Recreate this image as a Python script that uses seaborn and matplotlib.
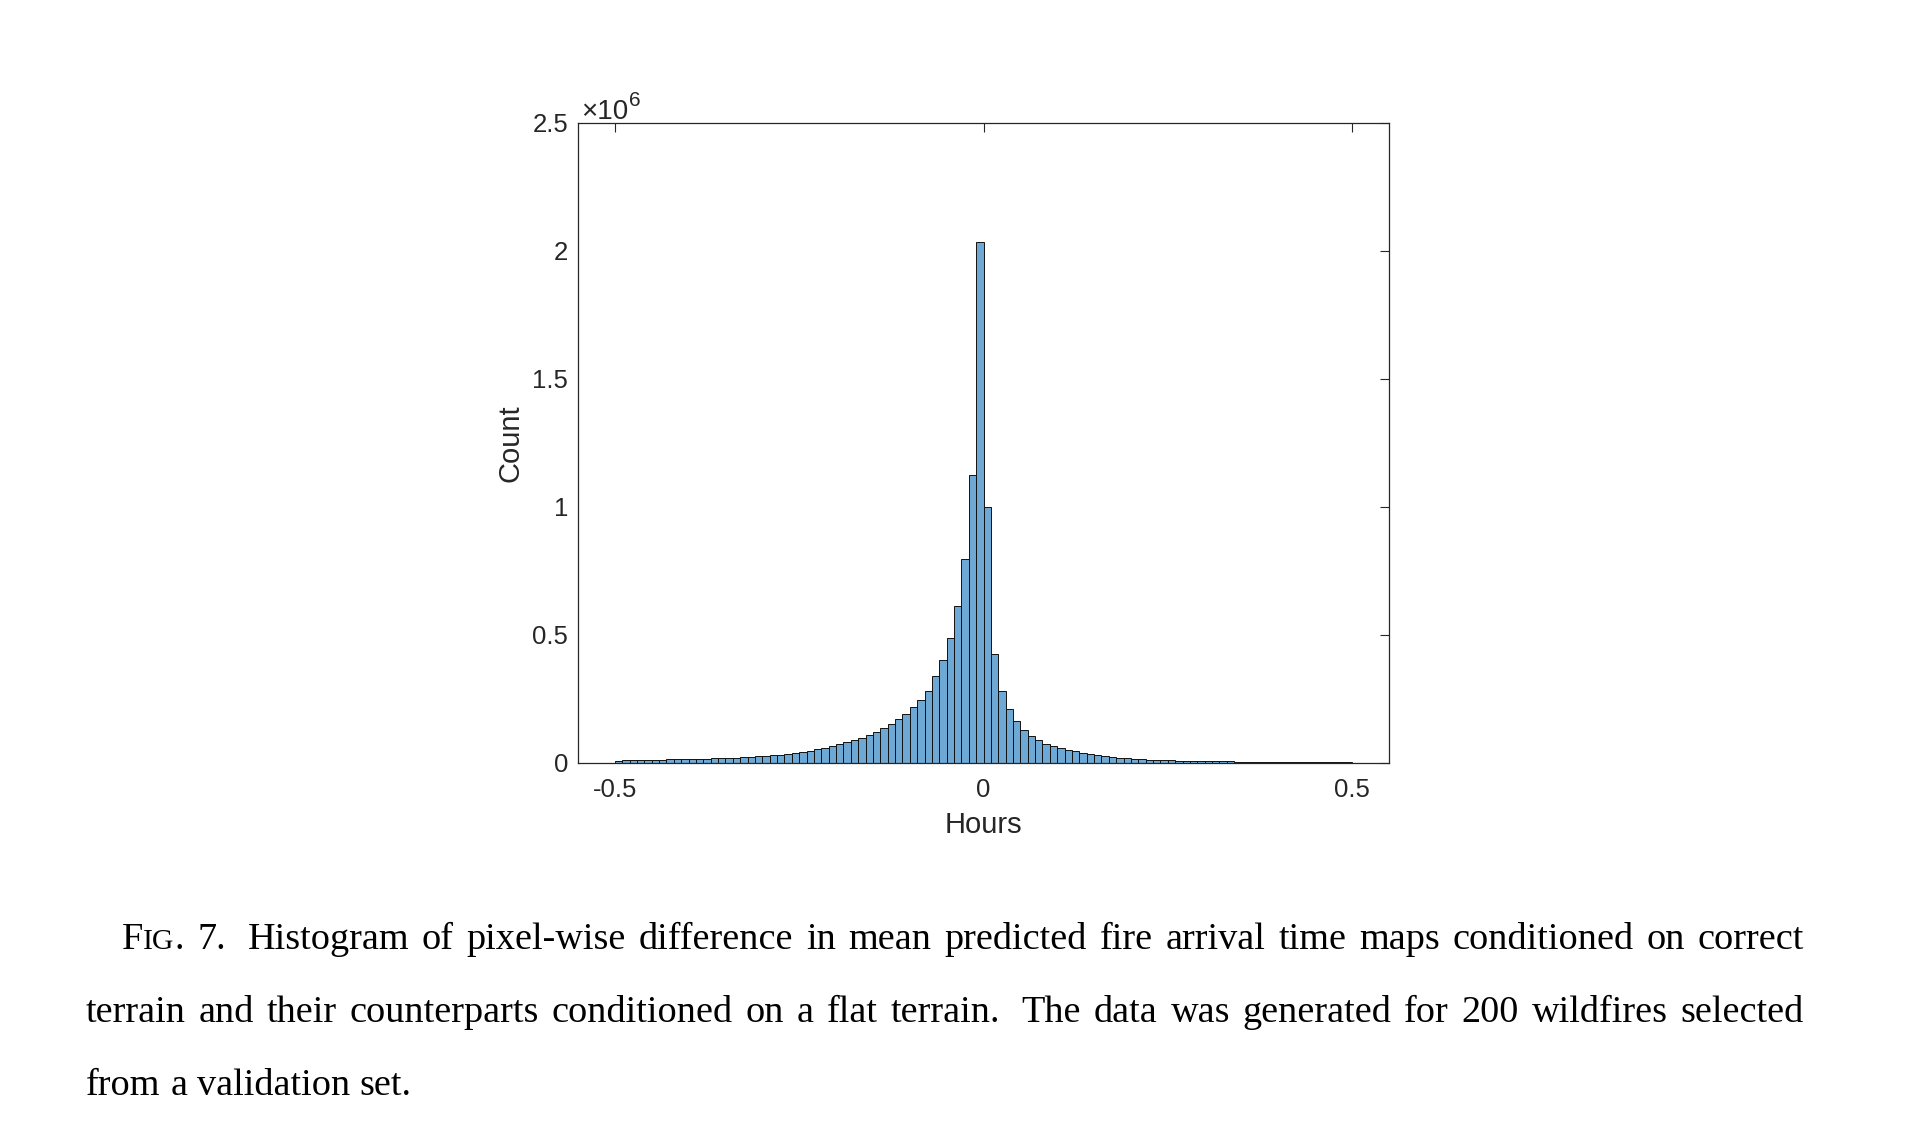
import numpy as np
import pandas as pd
import matplotlib
matplotlib.use("Agg")
import matplotlib.pyplot as plt
import seaborn as sns

# ---------------- data ----------------
BIN_START = -0.5
BIN_WIDTH = 0.01
# counts per bin, in millions, bins from -0.5 to 0.5 hours (width 0.01)
counts_millions = [
    0.009, 0.0104, 0.0117, 0.0117, 0.013, 0.013, 0.013, 0.0143, 0.0143, 0.0156,
    0.0156, 0.017, 0.017, 0.018, 0.0195, 0.0195, 0.021, 0.022, 0.025, 0.026,
    0.027, 0.030, 0.033, 0.036, 0.040, 0.044, 0.048, 0.053, 0.059, 0.065,
    0.073, 0.081, 0.089, 0.098, 0.109, 0.122, 0.137, 0.154, 0.171, 0.193,
    0.217, 0.245, 0.283, 0.338, 0.404, 0.488, 0.612, 0.797, 1.124, 2.035,
    1.000, 0.424, 0.283, 0.212, 0.164, 0.129, 0.104, 0.0885, 0.0755, 0.066,
    0.057, 0.051, 0.046, 0.040, 0.036, 0.032, 0.027, 0.023, 0.021, 0.018,
    0.0156, 0.0143, 0.013, 0.0117, 0.0104, 0.0100, 0.009, 0.0088, 0.0078, 0.0076,
    0.0072, 0.0065, 0.0063, 0.006, 0.0055, 0.0052, 0.005, 0.0048, 0.0047, 0.0046,
    0.0045, 0.0044, 0.0043, 0.0042, 0.0042, 0.0041, 0.0040, 0.0040, 0.0039, 0.0038,
]
x_ticks = [-0.5, 0, 0.5]
x_tick_labels = ["-0.5", "0", "0.5"]
y_ticks_millions = [0, 0.5, 1, 1.5, 2, 2.5]
y_tick_labels = ["0", "0.5", "1", "1.5", "2", "2.5"]
x_label = "Hours"
y_label = "Count"

CAP = 27.5
caption_lines = [
    [[("F", CAP), ("IG", CAP * 0.78), (".", CAP)], [("7.", CAP)], "|",
     "Histogram", "of", "pixel-wise", "difference", "in", "mean", "predicted",
     "fire", "arrival", "time", "maps", "conditioned", "on", "correct"],
    ["terrain", "and", "their", "counterparts", "conditioned", "on", "a", "flat",
     "terrain.", "|", "The", "data", "was", "generated", "for", "200", "wildfires",
     "selected"],
    ["from", "a", "validation", "set."],
]

# ---------------- build the table ----------------
n_bins = len(counts_millions)
centers = BIN_START + BIN_WIDTH * (np.arange(n_bins) + 0.5)
df = pd.DataFrame({"hours": centers, "count": np.array(counts_millions) * 1e6})
bin_range = (BIN_START, BIN_START + BIN_WIDTH * n_bins)

# ---------------- style ----------------
sns.set_style("white")
plt.rcParams["font.family"] = ["Liberation Sans", "DejaVu Sans"]

W, H = 1930, 1140
fig = plt.figure(figsize=(W / 100, H / 100), dpi=100)
fig.patch.set_facecolor("white")

ax_l, ax_r, ax_t, ax_b = 578, 1389, 123, 763
ax = fig.add_axes([ax_l / W, 1 - ax_b / H, (ax_r - ax_l) / W, (ax_b - ax_t) / H])

sns.histplot(data=df, x="hours", weights="count", binwidth=BIN_WIDTH,
             binrange=bin_range, color="#6EA9D6", edgecolor="#111111",
             linewidth=0.7, alpha=1.0, ax=ax)

axis_gray = "#262626"
ax.set_xlim(-0.55, 0.55)
ax.set_ylim(0, 2.5e6)
ax.set_xticks(x_ticks)
ax.set_xticklabels(x_tick_labels)
ax.set_yticks([v * 1e6 for v in y_ticks_millions])
ax.set_yticklabels(y_tick_labels)
ax.tick_params(axis="both", direction="in", length=6.5, width=0.8, colors=axis_gray,
               labelsize=18.5, top=True, right=True)
ax.tick_params(axis="x", pad=11)
ax.tick_params(axis="y", pad=7)
for s in ax.spines.values():
    s.set_color(axis_gray)
    s.set_linewidth(0.9)
    s.set_visible(True)

ax.set_xlabel(x_label, fontsize=21, color=axis_gray, labelpad=6)
ax.set_ylabel(y_label, fontsize=21, color=axis_gray, labelpad=6)

fig.text(581 / W, 1 - 119 / H, "×10", fontsize=20, color=axis_gray,
         ha="left", va="baseline")
fig.text(629 / W, 1 - 106 / H, "6", fontsize=15, color=axis_gray,
         ha="left", va="baseline")

# ---------------- caption (justified) ----------------
serif = ["Liberation Serif", "DejaVu Serif"]
renderer = fig.canvas.get_renderer()


def seg_width(text, size):
    t = fig.text(0, 0, text, fontsize=size, family=serif)
    w = t.get_window_extent(renderer).width
    t.remove()
    return w


space_w = seg_width("a a", CAP) - seg_width("aa", CAP)


def draw_caption_line(tokens, x0, x1, y, justify):
    words = []
    weights = []
    pending = 1.0
    for tok in tokens:
        if tok == "|":
            pending = 1.7
            continue
        segs = tok if isinstance(tok, list) else [(tok, CAP)]
        if words:
            weights.append(pending)
        pending = 1.0
        words.append(segs)
    widths = [sum(seg_width(s, z) for s, z in segs) for segs in words]
    if justify:
        unit = ((x1 - x0) - sum(widths)) / sum(weights)
    else:
        unit = space_w
    x = x0
    for i, segs in enumerate(words):
        for s, z in segs:
            fig.text(x / W, 1 - y / H, s, fontsize=z, family=serif,
                     color="black", ha="left", va="baseline")
            x += seg_width(s, z)
        if i < len(weights):
            x += unit * weights[i]


draw_caption_line(caption_lines[0], 122, 1804, 949, True)
draw_caption_line(caption_lines[1], 86, 1804, 1022, True)
draw_caption_line(caption_lines[2], 86, 1804, 1095, False)

fig.savefig("out.png", dpi=100, facecolor="white")
